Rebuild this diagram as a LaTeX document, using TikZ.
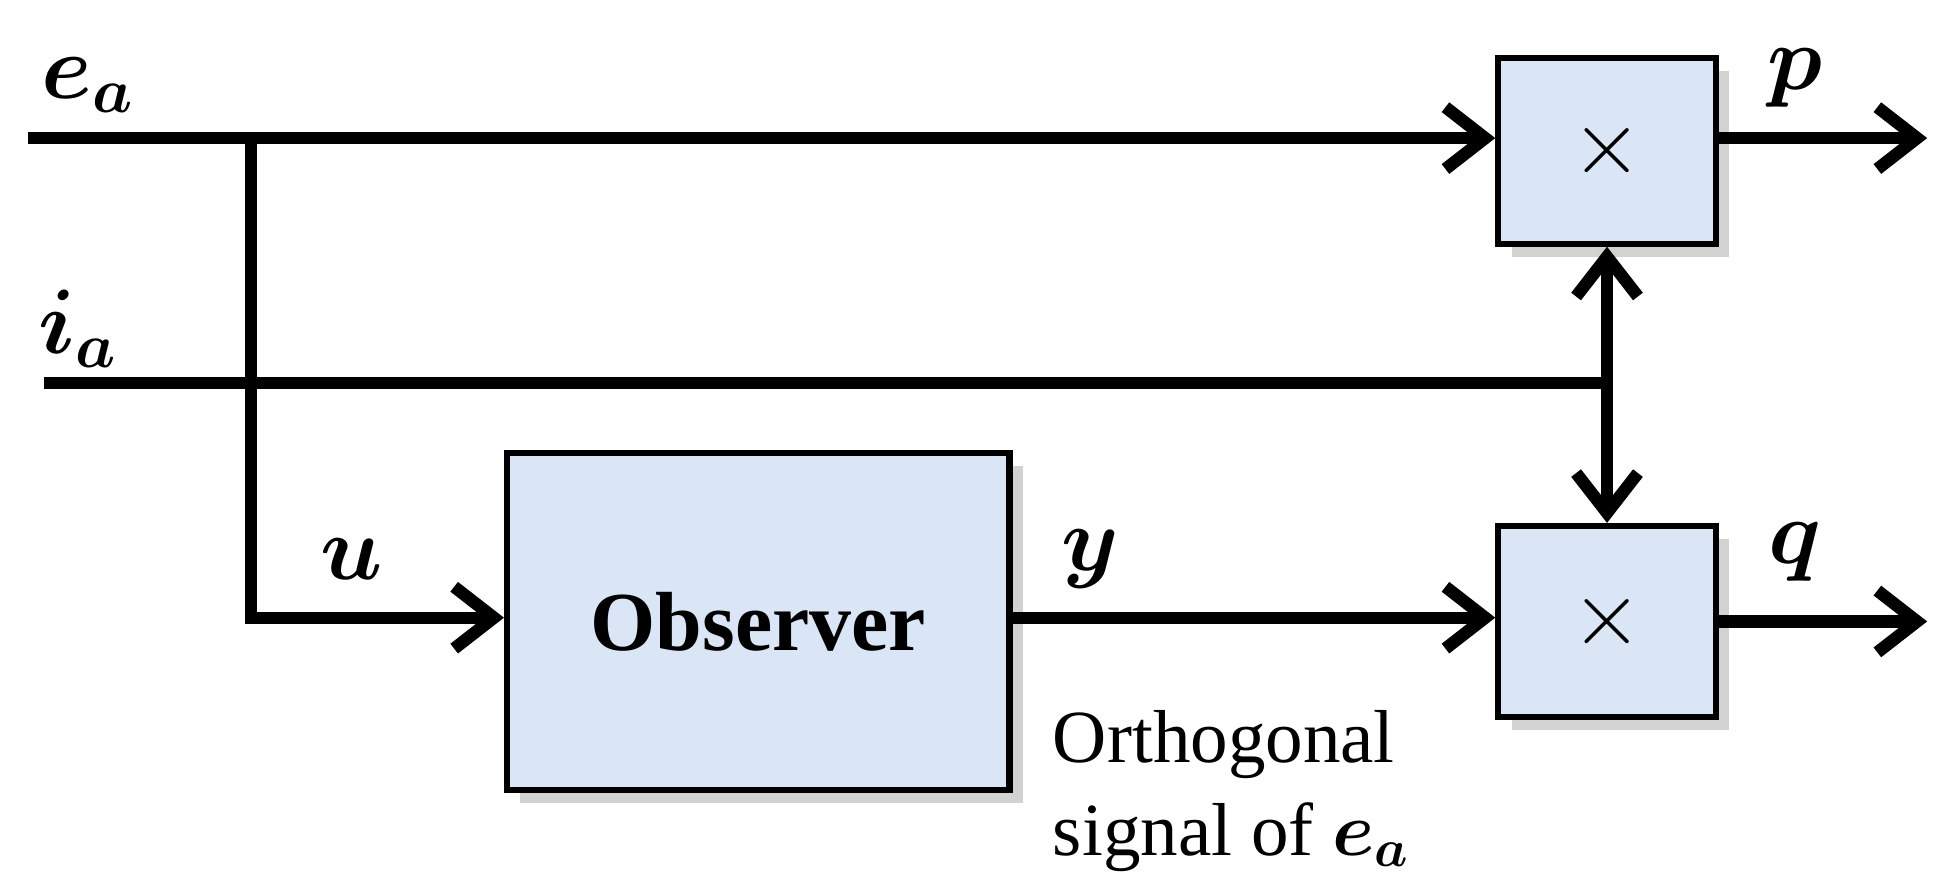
\documentclass[tikz,border=0pt]{standalone}
\usepackage{amsmath}
\usepackage{bm}
\usepackage{fontspec}
\setmainfont{Liberation Serif}
\usetikzlibrary{arrows.meta,shadows}
\begin{document}
\begin{tikzpicture}[x=0.01cm,y=-0.01cm,
		block/.style={rectangle, draw, line width=1.4pt, fill={rgb,255:red,218;green,230;blue,245}, drop shadow={shadow xshift=3pt, shadow yshift=-3pt, fill=black!35}},
		line/.style={draw, line width=2.8pt, -{Straight Barb[length=9pt,width=14pt,line width=2.8pt]}},
		lbl/.style={font=\fontsize{20}{24}\selectfont}
	]
	\useasboundingbox (0,0) rectangle (1550,703);
	% Place nodes
	\node [block, minimum width=4.0cm, minimum height=2.68cm] (obs) at (604,495) {\fontsize{19}{23}\selectfont\textbf{Observer}};
	\node [block, minimum width=1.73cm, minimum height=1.48cm] (mulp) at (1280,120) {\fontsize{20}{24}\selectfont$\times$};
	\node [block, minimum width=1.73cm, minimum height=1.52cm] (mulq) at (1280,495) {\fontsize{20}{24}\selectfont$\times$};
	\coordinate (ea) at (22,110);
	\coordinate (ia) at (35,305);
	\coordinate (br) at (200,110);
	\coordinate (jn) at (1280,305);
	\coordinate (pout) at (1535,110);
	\coordinate (qout) at (1535,495);
	% Draw edges
	\path [line] (ea) -- (mulp.west |- ea);
	\draw [line width=2.8pt] (br) |- (300,492);
	\path [line] (300,492) -- (obs.west |- 0,492);
	\draw [line width=2.8pt] (ia) -- (jn);
	\path [line] (jn) -- (mulp.south);
	\path [line] (jn) -- (mulq.north);
	\path [line] (obs.east |- 0,492) -- (mulq.west |- 0,492);
	\path [line] (mulp.east |- pout) -- (pout);
	\path [line] (mulq.east) -- (qout);
	% Labels
	\node [lbl] at (70,68) {$\bm{e_a}$};
	\node [lbl] at (62,262) {$\bm{i_a}$};
	\node [lbl] at (280,445) {$\bm{u}$};
	\node [lbl] at (868,445) {$\bm{y}$};
	\node [lbl] at (1430,62) {$\bm{p}$};
	\node [lbl] at (1430,440) {$\bm{q}$};
	\node [font=\fontsize{17}{21}\selectfont, align=left, anchor=north west, inner sep=0pt] (txt) at (838,565) {Orthogonal\\signal of $\bm{e_a}$};
\end{tikzpicture}
\end{document}
